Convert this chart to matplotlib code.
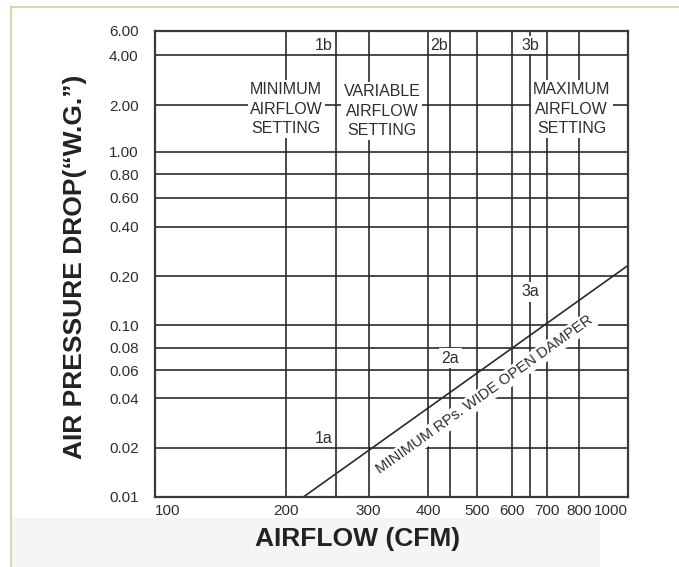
import numpy as np
import matplotlib
matplotlib.use("Agg")
import matplotlib.pyplot as plt
from matplotlib import font_manager as fm
from matplotlib.patches import Rectangle
from matplotlib.lines import Line2D

# ---------------- data ----------------
x_ticks = [100, 200, 300, 400, 500, 600, 700, 800, 1000]
x_tick_labels = ["100", "200", "300", "400", "500", "600", "700", "800", "1000"]
y_ticks = [0.01, 0.02, 0.04, 0.06, 0.08, 0.10, 0.20, 0.40, 0.60, 0.80, 1.00, 2.00, 4.00, 6.00]
y_tick_labels = ["0.01", "0.02", "0.04", "0.06", "0.08", "0.10", "0.20", "0.40",
                 "0.60", "0.80", "1.00", "2.00", "4.00", "6.00"]
setting_lines = [255, 442, 650]          # 1, 2, 3 airflow settings (CFM)
a_labels = ["1a", "2a", "3a"]
b_labels = ["1b", "2b", "3b"]
a_label_y = [0.0226, 0.070, 0.161]
b_label_y = 4.7
damper_x = [218, 1000]
damper_y = [0.01, 0.232]
damper_text = "MINIMUM RPs. WIDE OPEN DAMPER"
blocks = ["MINIMUM\nAIRFLOW\nSETTING", "VARIABLE\nAIRFLOW\nSETTING", "MAXIMUM\nAIRFLOW\nSETTING"]
block_x = [200, 320, 775]
block_y = [1.88, 1.82, 1.88]

# chart-paper calibration of the (hand drawn) logarithmic axes
X_CAL = [154.5, 286.3, 368.5, 428.3, 477.3, 512.3, 547.3, 579.3, 627.7]
Y_CAL = [496.7, 447.7, 398.3, 370.0, 347.7, 325.3, 276.3, 226.7, 197.7, 174.3, 151.7, 105.0, 55.0, 30.7]


def paper_scale(vals, cal, flip):
    lv = np.log10(np.asarray(vals, float))
    p = np.asarray(cal, float)
    p = (p[0] - p) if flip else (p - p[0])

    def _interp(t, xs, ys):
        t = np.asarray(t, float)
        out = np.interp(t, xs, ys)
        s0 = (ys[1] - ys[0]) / (xs[1] - xs[0])
        s1 = (ys[-1] - ys[-2]) / (xs[-1] - xs[-2])
        out = np.where(t < xs[0], ys[0] + (t - xs[0]) * s0, out)
        out = np.where(t > xs[-1], ys[-1] + (t - xs[-1]) * s1, out)
        return out

    def fwd(v):
        v = np.asarray(v, float)
        with np.errstate(divide="ignore", invalid="ignore"):
            l = np.log10(np.where(v > 0, v, 1e-300))
        return _interp(l, lv, p)

    def inv(t):
        return 10.0 ** _interp(t, p, lv)

    return fwd, inv


def has_font(name):
    try:
        fm.findfont(fm.FontProperties(family=name), fallback_to_default=False)
        return True
    except Exception:
        return False


if has_font("Liberation Sans Narrow"):
    NARROW = ["Liberation Sans Narrow", "DejaVu Sans"]
    TICK_FS, ANN_FS, DAMP_FS = 12.5, 13, 13
else:
    NARROW = ["Liberation Sans", "DejaVu Sans"]
    TICK_FS, ANN_FS, DAMP_FS = 11, 11.5, 10.8
BOLD = ["Liberation Sans", "DejaVu Sans"]
TXT = "#2e2e2e"
GRID = "#2a2a2a"

W, H, DPI = 679, 567, 100
fig = plt.figure(figsize=(W / DPI, H / DPI), dpi=DPI)
fig.patch.set_facecolor("white")

# decoration: light grey band and green border
fig.add_artist(Rectangle((11 / W, 0), (600 - 11) / W, 49 / H, transform=fig.transFigure,
                         facecolor="#f5f5f5", edgecolor="none", zorder=0))
fig.add_artist(Line2D([10.7 / W, 10.7 / W], [0, 1 - 7.3 / H], transform=fig.transFigure,
                      color="#cadc92", lw=1.3, zorder=1))
fig.add_artist(Line2D([10.7 / W, 1], [1 - 7.3 / H, 1 - 7.3 / H], transform=fig.transFigure,
                      color="#cadc92", lw=1.3, zorder=1))

ax = fig.add_axes([154.5 / W, 1 - 496.7 / H, (627.7 - 154.5) / W, (496.7 - 30.7) / H])
ax.set_facecolor("white")
ax.set_xscale("function", functions=paper_scale(x_ticks, X_CAL, False))
ax.set_yscale("function", functions=paper_scale(y_ticks, Y_CAL, True))
ax.set_xlim(x_ticks[0], x_ticks[-1])
ax.set_ylim(y_ticks[0], y_ticks[-1])

ax.set_xticks(x_ticks, x_tick_labels)
ax.set_yticks(y_ticks, y_tick_labels)
ax.xaxis.set_minor_locator(matplotlib.ticker.NullLocator())
ax.yaxis.set_minor_locator(matplotlib.ticker.NullLocator())
ax.tick_params(axis="both", length=0, labelcolor=TXT, labelsize=TICK_FS)
ax.tick_params(axis="x", pad=5.5)
ax.tick_params(axis="y", pad=11.5)
for lab in ax.get_xticklabels() + ax.get_yticklabels():
    lab.set_family(NARROW)
xl = ax.get_xticklabels()
xl[0].set_ha("left")
xl[-1].set_ha("right")

for v in x_ticks[1:-1]:
    ax.axvline(v, color=GRID, lw=1.2, zorder=1)
for v in y_ticks[1:-1]:
    ax.axhline(v, color=GRID, lw=1.2, zorder=1)
for v in setting_lines:
    ax.axvline(v, color=GRID, lw=1.2, zorder=1)
for s in ax.spines.values():
    s.set_color("#3a3a3a")
    s.set_linewidth(1.6)

# damper line
ax.plot(damper_x, damper_y, color=GRID, lw=1.2, zorder=2)
fig.canvas.draw()
p0 = ax.transData.transform((damper_x[0], damper_y[0]))
p1 = ax.transData.transform((damper_x[1], damper_y[1]))
ang = np.degrees(np.arctan2(p1[1] - p0[1], p1[0] - p0[0]))
ax.text(520, 0.042, damper_text, rotation=ang, rotation_mode="anchor", ha="center", va="center",
        fontsize=DAMP_FS, family=NARROW, color=TXT, zorder=4,
        bbox=dict(facecolor="white", edgecolor="none", pad=1.5))

wb = dict(facecolor="white", edgecolor="none", pad=1.5)
for t, x, y in zip(blocks, block_x, block_y):
    ax.text(x, y, t, ha="center", va="center", multialignment="center", linespacing=1.38,
            fontsize=ANN_FS, family=NARROW, color=TXT, zorder=4, bbox=wb)

# a / b labels
ax.annotate(b_labels[0], (setting_lines[0], b_label_y), xytext=(-3, 0), textcoords="offset pixels",
            ha="right", va="center", fontsize=ANN_FS, family=NARROW, color=TXT, zorder=4)
ax.annotate(b_labels[1], (setting_lines[1], b_label_y), xytext=(-2, 0), textcoords="offset pixels",
            ha="right", va="center", fontsize=ANN_FS, family=NARROW, color=TXT, zorder=4)
ax.text(setting_lines[2], b_label_y, b_labels[2], ha="center", va="center", fontsize=ANN_FS,
        family=NARROW, color=TXT, zorder=4, bbox=dict(facecolor="white", edgecolor="none", pad=1.0))
ax.annotate(a_labels[0], (setting_lines[0], a_label_y[0]), xytext=(-3, 0), textcoords="offset pixels",
            ha="right", va="center", fontsize=ANN_FS, family=NARROW, color=TXT, zorder=4)
for i in (1, 2):
    ax.text(setting_lines[i], a_label_y[i], a_labels[i], ha="center", va="center", fontsize=ANN_FS,
            family=NARROW, color=TXT, zorder=4, bbox=dict(facecolor="white", edgecolor="none", pad=1.8))

# axis titles
fig.text(358 / W, 1 - 539 / H, "AIRFLOW (CFM)", ha="center", va="center", fontsize=19,
         fontweight="bold", family=BOLD, color="#222222")
fig.text(75 / W, 1 - 266.5 / H, "AIR PRESSURE DROP(\u201cW.G.\u201d)", ha="center", va="center",
         rotation=90, fontsize=19, fontweight="bold", family=BOLD, color="#222222")

fig.savefig("out.png", dpi=DPI, facecolor=fig.get_facecolor())
